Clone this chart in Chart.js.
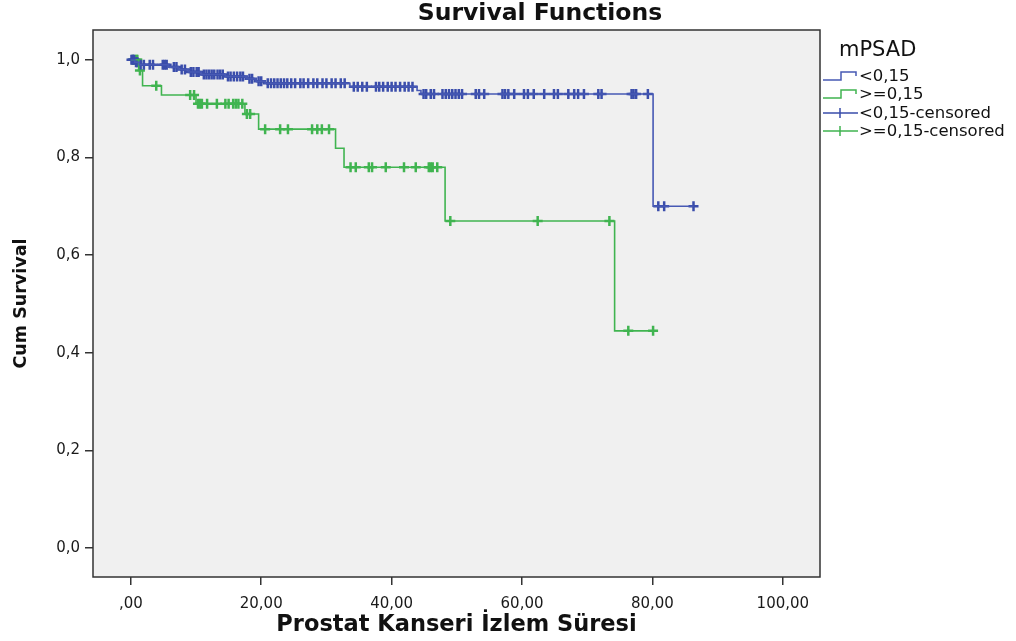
<!DOCTYPE html>
<html>
<head>
<meta charset="utf-8">
<script src="https://cdn.jsdelivr.net/npm/chart.js@4/dist/chart.umd.min.js"></script>
<style>
  html, body { margin: 0; padding: 0; background: #ffffff; }
  #wrap { width: 1016px; height: 641px; }
</style>
</head>
<body>
<div id="wrap"><canvas id="c" width="1016" height="641"></canvas></div>
<script>
// Kaplan-Meier steps: time of each drop and survival after it
const blueEventTimes = [0, 0.6, 1.3, 5.8, 7.3, 8.8, 10.8, 14.5, 17.8, 19.2, 20.6, 33.6, 43.9, 44.5, 80.1];
const blueSurvival   = [1.0, 0.995, 0.99, 0.985, 0.98, 0.975, 0.97, 0.966, 0.961, 0.956, 0.952, 0.945, 0.937, 0.93, 0.70];
const blueCensored = [0.1, 0.3, 0.5, 0.8, 1.0, 1.5, 2.0, 2.9, 3.4, 4.9, 5.2, 5.5, 6.6, 7.0, 7.8, 8.3, 9.2, 9.6,
  10.1, 10.4, 11.2, 11.6, 12.0, 12.4, 12.8, 13.3, 13.7, 14.1, 14.9, 15.3, 15.8, 16.3, 16.8, 17.2, 18.2, 18.6,
  19.6, 20.0, 21.0, 21.5, 22.0, 22.5, 23.0, 23.5, 24.0, 24.6, 25.2, 26.0, 26.5, 27.2, 28.0, 28.6, 29.4, 30.0,
  30.8, 31.4, 32.2, 32.8, 34.2, 34.8, 35.5, 36.2, 37.6, 38.1, 38.7, 39.4, 40.0, 40.6, 41.3, 42.0, 42.6, 43.2,
  44.9, 45.3, 46.0, 46.5, 47.8, 48.3, 48.8, 49.3, 49.8, 50.3, 50.8, 52.9, 53.4, 54.2, 57.0, 57.4, 57.9, 58.8,
  60.3, 60.9, 61.8, 63.4, 64.9, 65.5, 67.1, 68.0, 68.6, 69.5, 71.7, 72.2, 76.8, 77.1, 77.5, 79.3, 80.9, 81.8, 86.3];

const greenEventTimes = [0, 1.2, 1.8, 4.7, 10.0, 17.5, 19.6, 31.4, 32.7, 48.2, 74.2];
const greenSurvival   = [1.0, 0.978, 0.947, 0.928, 0.91, 0.889, 0.858, 0.819, 0.78, 0.67, 0.445];
const greenCensored = [0.3, 0.6, 0.9, 1.0, 1.4, 3.9, 9.1, 9.7, 10.3, 10.6, 10.9, 11.7, 13.2, 14.5, 15.0, 15.7,
  16.1, 16.5, 17.1, 17.8, 18.3, 20.6, 22.9, 24.1, 27.8, 28.6, 29.3, 30.4, 33.7, 34.5, 36.5, 37.0, 39.1, 41.9,
  43.7, 45.7, 46.0, 46.3, 47.0, 49.0, 62.4, 73.4, 76.3, 80.1];

const xTickValues = [0, 20, 40, 60, 80, 100];
const xTickLabels = [',00', '20,00', '40,00', '60,00', '80,00', '100,00'];
const yTickValues = [0, 0.2, 0.4, 0.6, 0.8, 1.0];
const yTickLabels = ['0,0', '0,2', '0,4', '0,6', '0,8', '1,0'];

const groupLabels = ['<0,15', '>=0,15', '<0,15-censored', '>=0,15-censored'];
const legendTitle = 'mPSAD';
const chartTitle = 'Survival Functions';

const BLUE = '#4759b4';
const BLUE_MARK = '#3a4dab';
const GREEN = '#40b450';
const FONT = "'DejaVu Sans', 'Liberation Sans', sans-serif";

// survival value in effect at time t
function survivalAt(times, surv, t) {
  let s = surv[0];
  for (let i = 0; i < times.length; i++) { if (times[i] <= t) s = surv[i]; }
  return s;
}
function stepPoints(times, surv, censored) {
  const pts = times.map((t, i) => ({ x: t, y: surv[i] }));
  const last = censored[censored.length - 1];
  if (last > times[times.length - 1]) pts.push({ x: last, y: surv[surv.length - 1] });
  return pts;
}
function censorPoints(times, surv, censored) {
  return censored.map(t => ({ x: t, y: survivalAt(times, surv, t) }));
}

const framePlugin = {
  id: 'frame',
  beforeDraw(chart) {
    const { ctx, chartArea: a } = chart;
    ctx.save();
    ctx.fillStyle = '#f0f0f0';
    ctx.fillRect(a.left, a.top, a.right - a.left, a.bottom - a.top);
    ctx.restore();
  },
  afterDraw(chart) {
    const { ctx, chartArea: a } = chart;
    ctx.save();
    ctx.strokeStyle = '#333';
    ctx.lineWidth = 1.5;
    ctx.strokeRect(a.left, a.top, a.right - a.left, a.bottom - a.top);

    // title
    ctx.fillStyle = '#111';
    ctx.font = 'bold 23.5px ' + FONT;
    ctx.textAlign = 'center';
    ctx.textBaseline = 'middle';
    ctx.fillText(chartTitle, 540, 14);

    // legend
    ctx.textAlign = 'left';
    ctx.font = '21px ' + FONT;
    ctx.fillText(legendTitle, 839, 51);
    ctx.font = '16.5px ' + FONT;
    const rows = [76, 94, 113, 131];
    const colors = [BLUE, GREEN, BLUE_MARK, GREEN];
    rows.forEach((y, i) => {
      ctx.strokeStyle = colors[i];
      ctx.lineWidth = 1.5;
      ctx.beginPath();
      if (i < 2) {
        ctx.moveTo(823, y + 4);
        ctx.lineTo(841, y + 4);
        ctx.lineTo(841, y - 4);
        ctx.lineTo(856, y - 4);
        ctx.lineTo(856, y);
      } else {
        ctx.moveTo(823, y);
        ctx.lineTo(858, y);
        ctx.moveTo(840, y - 5);
        ctx.lineTo(840, y + 5);
      }
      ctx.stroke();
      ctx.fillStyle = '#111';
      ctx.fillText(groupLabels[i], 859, y + 1);
    });
    ctx.restore();
  }
};

new Chart(document.getElementById('c'), {
  type: 'scatter',
  data: {
    datasets: [
      {
        label: groupLabels[0],
        data: stepPoints(blueEventTimes, blueSurvival, blueCensored),
        showLine: true, stepped: 'before',
        borderColor: BLUE, borderWidth: 1.6, pointRadius: 0, fill: false
      },
      {
        label: groupLabels[1],
        data: stepPoints(greenEventTimes, greenSurvival, greenCensored),
        showLine: true, stepped: 'before',
        borderColor: GREEN, borderWidth: 1.6, pointRadius: 0, fill: false
      },
      {
        label: groupLabels[2],
        data: censorPoints(blueEventTimes, blueSurvival, blueCensored),
        showLine: false, pointStyle: 'cross', pointRadius: 5,
        borderColor: BLUE_MARK, borderWidth: 2.5
      },
      {
        label: groupLabels[3],
        data: censorPoints(greenEventTimes, greenSurvival, greenCensored),
        showLine: false, pointStyle: 'cross', pointRadius: 5,
        borderColor: GREEN, borderWidth: 2.5
      }
    ]
  },
  options: {
    responsive: false,
    animation: false,
    devicePixelRatio: 1,
    layout: { padding: { top: 30, right: 196, left: 0, bottom: 0 } },
    plugins: {
      legend: { display: false },
      title: { display: false },
      tooltip: { enabled: false }
    },
    scales: {
      x: {
        type: 'linear',
        min: -5.8, max: 105.7,
        afterBuildTicks: s => { s.ticks = xTickValues.map(v => ({ value: v })); },
        afterFit: s => { s.height = 64; },
        ticks: {
          callback: (v, i) => xTickLabels[i],
          color: '#1a1a1a', font: { family: FONT, size: 15 }, padding: 10, maxRotation: 0
        },
        grid: { drawOnChartArea: false, drawTicks: true, tickLength: 8, color: '#333', lineWidth: 1.5 },
        border: { display: false },
        title: {
          display: true, text: 'Prostat Kanseri İzlem Süresi', color: '#111',
          font: { family: FONT, size: 22.5, weight: 'bold' }, padding: { top: 0, bottom: 2 }
        }
      },
      y: {
        type: 'linear',
        min: -0.059, max: 1.061,
        afterBuildTicks: s => { s.ticks = yTickValues.map(v => ({ value: v })); },
        afterFit: s => { s.width = 93; },
        ticks: {
          callback: (v, i) => yTickLabels[i],
          color: '#1a1a1a', font: { family: FONT, size: 15 }, padding: 5
        },
        grid: { drawOnChartArea: false, drawTicks: true, tickLength: 8, color: '#333', lineWidth: 1.5 },
        border: { display: false },
        title: {
          display: true, text: 'Cum Survival', color: '#111',
          font: { family: FONT, size: 17.5, weight: 'bold' }, padding: { top: 11, bottom: 0 }
        }
      }
    }
  },
  plugins: [framePlugin]
});
</script>
</body>
</html>
